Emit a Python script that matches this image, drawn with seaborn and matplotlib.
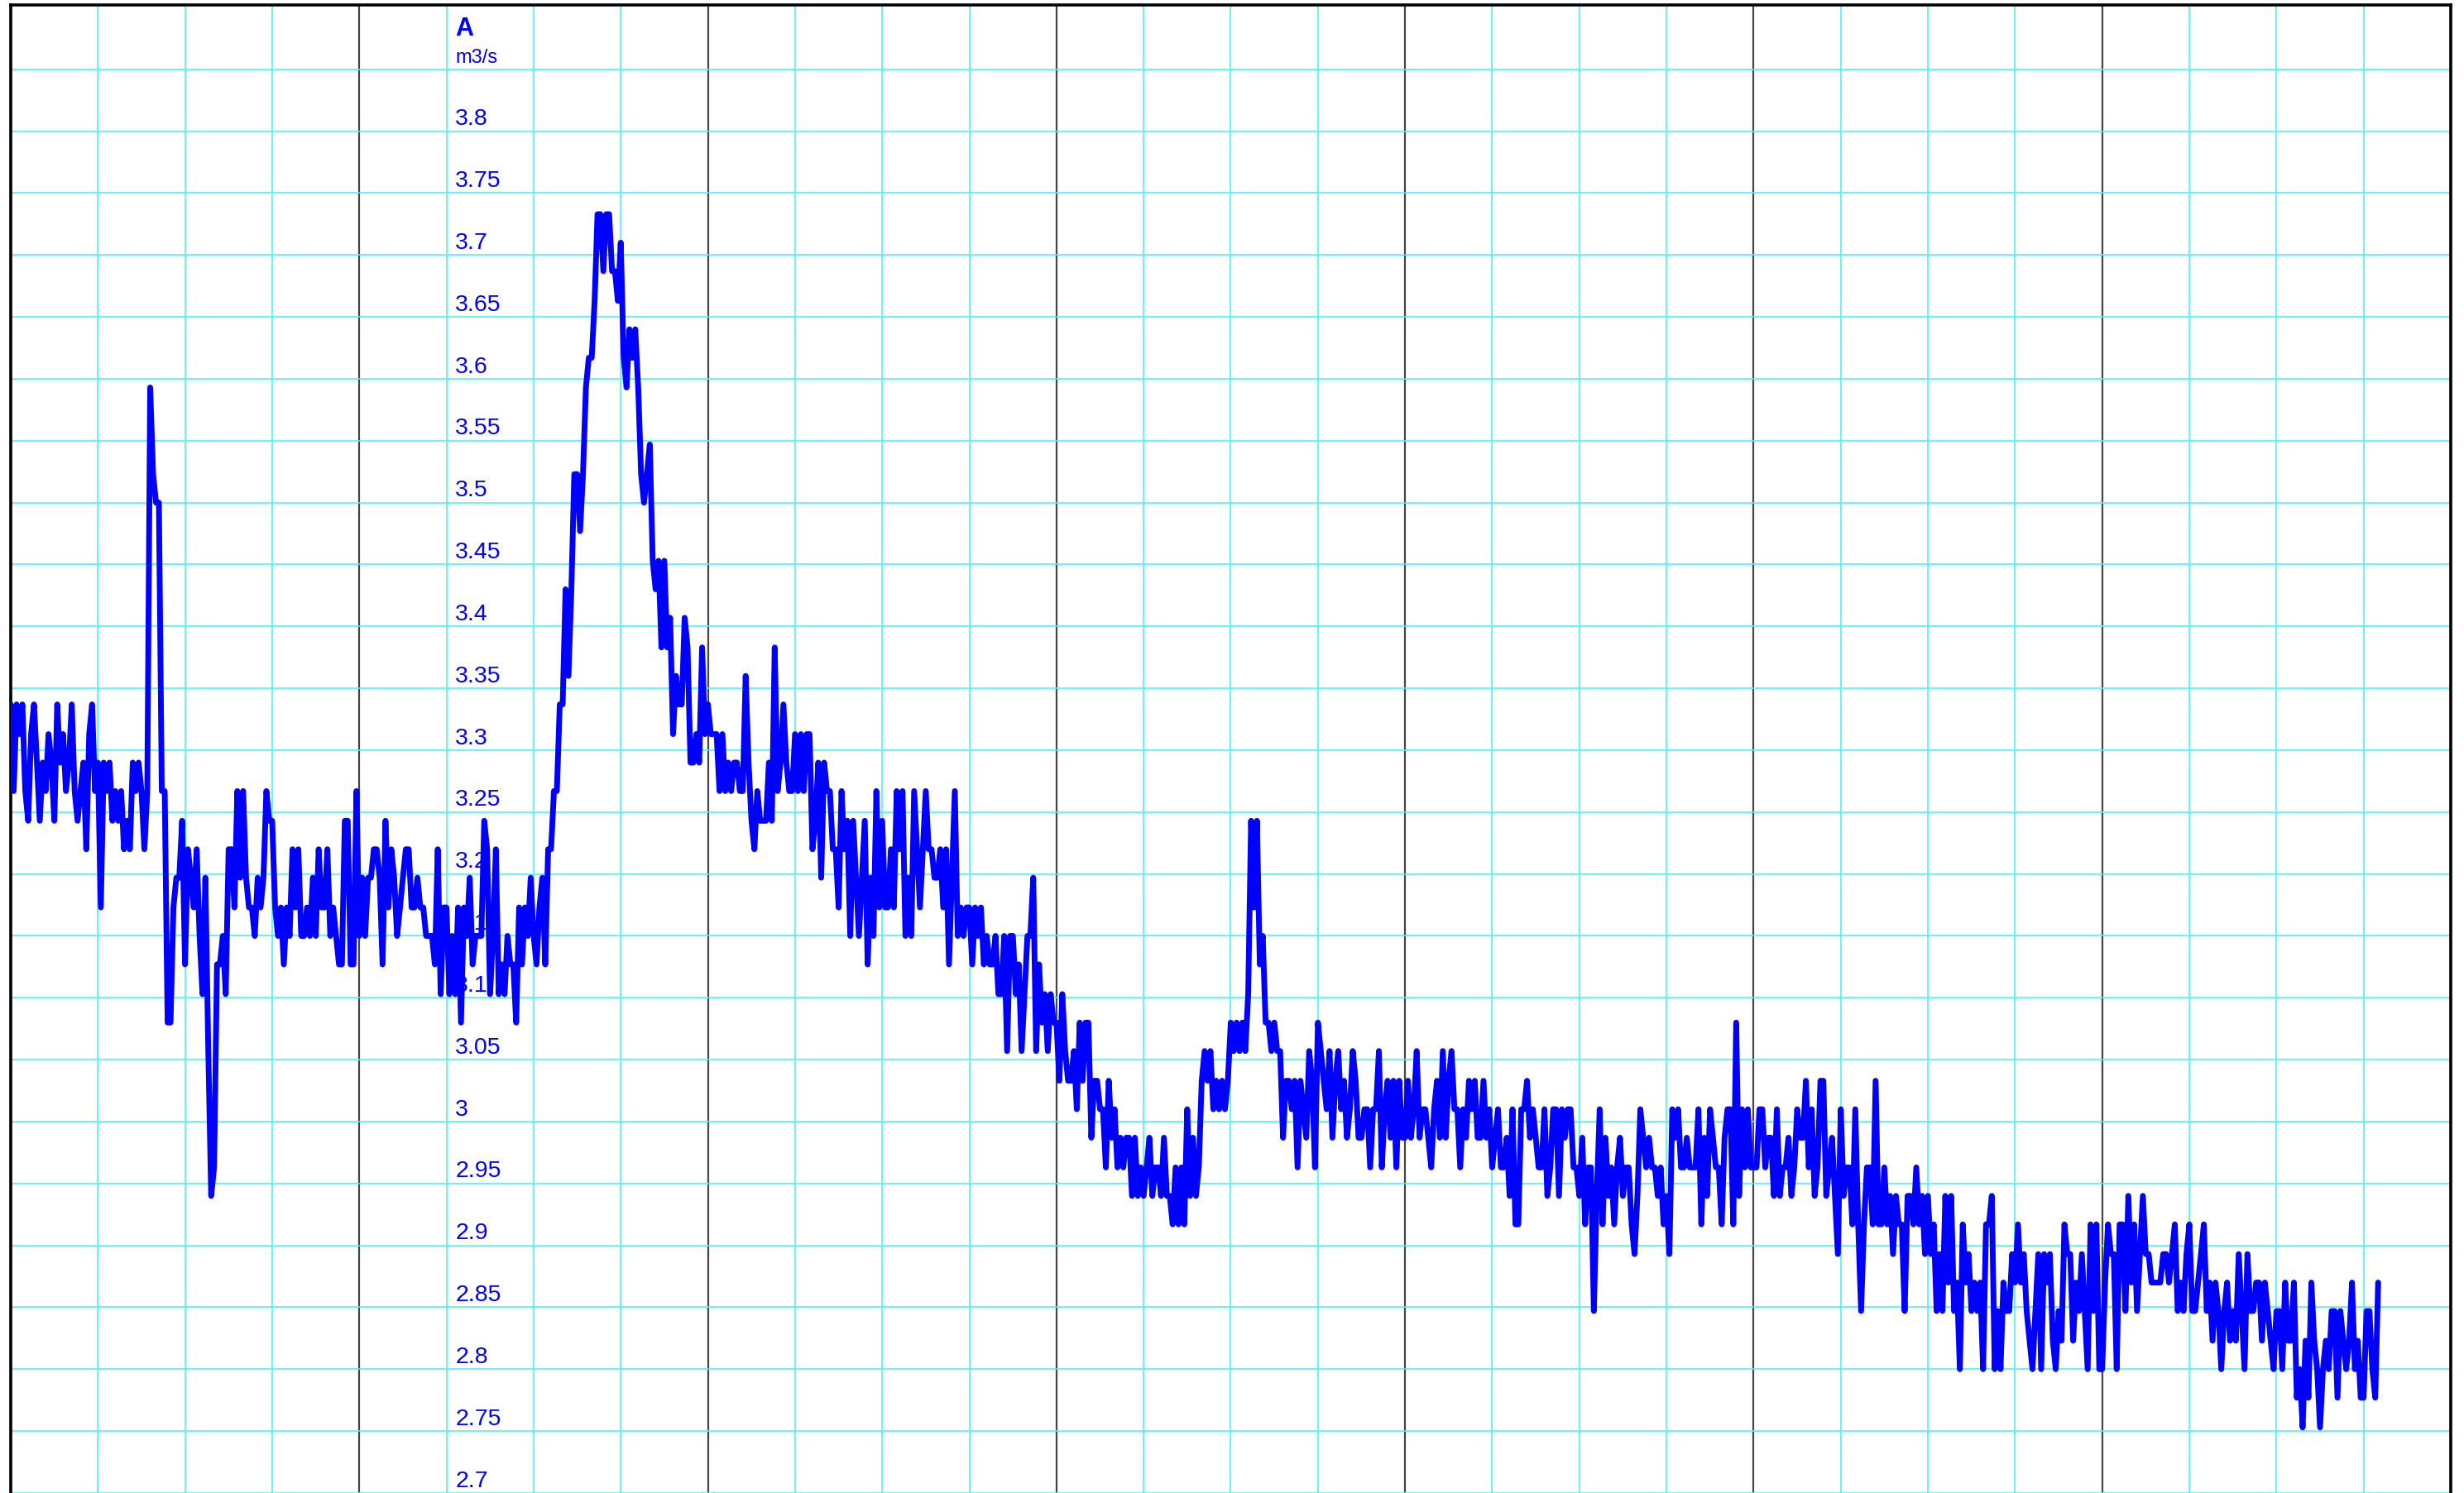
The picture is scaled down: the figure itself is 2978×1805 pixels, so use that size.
import numpy as np
import pandas as pd
import seaborn as sns
from matplotlib import pyplot as plt

# Flow readings A (m3/s), one reading every 12 minutes
flow_a = [3.337, 3.267, 3.337, 3.313, 3.337, 3.267, 3.243, 3.313, 3.337, 3.29,
          3.243, 3.29, 3.267, 3.313, 3.29, 3.243, 3.337, 3.29, 3.313, 3.267,
          3.29, 3.337, 3.267, 3.243, 3.267, 3.29, 3.22, 3.313, 3.337, 3.267,
          3.29, 3.173, 3.29, 3.267, 3.29, 3.243, 3.267, 3.243, 3.267, 3.22,
          3.243, 3.22, 3.29, 3.267, 3.29, 3.267, 3.22, 3.267, 3.593, 3.523,
          3.5, 3.5, 3.267, 3.267, 3.08, 3.08, 3.173, 3.197, 3.197, 3.243,
          3.127, 3.22, 3.197, 3.173, 3.22, 3.15, 3.103, 3.197, 3.057, 2.94,
          2.963, 3.127, 3.127, 3.15, 3.103, 3.22, 3.22, 3.173, 3.267, 3.197,
          3.267, 3.197, 3.173, 3.173, 3.15, 3.197, 3.173, 3.197, 3.267, 3.243,
          3.243, 3.173, 3.15, 3.173, 3.127, 3.173, 3.15, 3.22, 3.173, 3.22,
          3.15, 3.15, 3.173, 3.15, 3.197, 3.15, 3.22, 3.173, 3.173, 3.22,
          3.15, 3.173, 3.15, 3.127, 3.127]

flow_b = [3.243, 3.243, 3.127, 3.127, 3.267, 3.15, 3.197, 3.15, 3.197, 3.197,
          3.22, 3.22, 3.197, 3.127, 3.243, 3.173, 3.22, 3.197, 3.15, 3.173,
          3.197, 3.22, 3.22, 3.173, 3.173, 3.197, 3.173, 3.173, 3.15, 3.15,
          3.15, 3.127, 3.22, 3.103, 3.173, 3.173, 3.103, 3.15, 3.103, 3.173,
          3.08, 3.173, 3.15, 3.197, 3.127, 3.15, 3.15, 3.15, 3.243, 3.22,
          3.103, 3.15, 3.22, 3.103, 3.127, 3.103, 3.15, 3.127, 3.127, 3.08,
          3.173, 3.127, 3.173, 3.15, 3.197, 3.15, 3.127, 3.173, 3.197, 3.127,
          3.22, 3.22, 3.267, 3.267, 3.337, 3.337, 3.43, 3.36, 3.43, 3.523,
          3.523, 3.477, 3.523, 3.593, 3.617, 3.617, 3.663, 3.733, 3.733, 3.687,
          3.733, 3.733, 3.687, 3.687, 3.663, 3.71, 3.617, 3.593, 3.64, 3.617,
          3.64, 3.593, 3.523, 3.5, 3.523, 3.547, 3.453, 3.43, 3.453, 3.383,
          3.453, 3.383, 3.407, 3.313, 3.36, 3.337, 3.337, 3.407, 3.383, 3.29,
          3.29, 3.313, 3.29, 3.383, 3.313]

flow_c = [3.337, 3.313, 3.313, 3.313, 3.267, 3.313, 3.267, 3.29, 3.267, 3.29,
          3.29, 3.267, 3.267, 3.36, 3.29, 3.243, 3.22, 3.267, 3.243, 3.243,
          3.243, 3.29, 3.243, 3.383, 3.267, 3.29, 3.337, 3.29, 3.267, 3.267,
          3.313, 3.267, 3.313, 3.267, 3.313, 3.313, 3.22, 3.243, 3.29, 3.197,
          3.29, 3.267, 3.267, 3.22, 3.22, 3.173, 3.267, 3.22, 3.243, 3.15,
          3.243, 3.197, 3.15, 3.197, 3.243, 3.127, 3.197, 3.15, 3.267, 3.173,
          3.243, 3.173, 3.173, 3.22, 3.173, 3.267, 3.22, 3.267, 3.15, 3.197,
          3.15, 3.267, 3.22, 3.173, 3.22, 3.267, 3.22, 3.22, 3.197, 3.197,
          3.22, 3.173, 3.22, 3.127, 3.197, 3.267, 3.15, 3.173, 3.15, 3.173,
          3.173, 3.127, 3.173, 3.15, 3.173, 3.127, 3.15, 3.127, 3.127, 3.15,
          3.103, 3.103, 3.15, 3.057, 3.15, 3.15, 3.103, 3.127, 3.057, 3.103,
          3.15, 3.15, 3.197, 3.057, 3.127, 3.08, 3.103, 3.057, 3.103, 3.08]

flow_d = [3.08, 3.033, 3.103, 3.057, 3.033, 3.033, 3.057, 3.01, 3.08, 3.033,
          3.08, 3.08, 2.987, 3.033, 3.033, 3.01, 3.01, 2.963, 3.033, 2.987,
          3.01, 2.963, 2.987, 2.963, 2.987, 2.987, 2.94, 2.987, 2.94, 2.963,
          2.94, 2.963, 2.987, 2.94, 2.963, 2.963, 2.94, 2.987, 2.94, 2.94,
          2.917, 2.963, 2.917, 2.963, 2.917, 3.01, 2.94, 2.987, 2.94, 2.963,
          3.033, 3.057, 3.033, 3.057, 3.01, 3.033, 3.01, 3.033, 3.01, 3.033,
          3.08, 3.057, 3.08, 3.057, 3.08, 3.057, 3.103, 3.243, 3.173, 3.243,
          3.127, 3.15, 3.08, 3.08, 3.057, 3.08, 3.057, 3.057, 2.987, 3.033,
          3.033, 3.01, 3.033, 2.963, 3.033, 3.01, 2.987, 3.057, 3.033, 2.963,
          3.08, 3.057, 3.033, 3.01, 3.057, 2.987, 3.033, 3.057, 3.01, 3.033,
          2.987, 3.01, 3.057, 3.033, 2.987, 2.987, 3.01, 3.01, 2.963, 3.01,
          3.01, 3.057, 2.963, 3.01, 3.033, 2.987, 3.033, 2.963, 3.033, 2.987]

flow_e = [2.987, 3.033, 2.987, 3.01, 3.057, 2.987, 3.01, 3.01, 2.987, 2.963,
          3.01, 3.033, 2.987, 3.057, 2.987, 3.033, 3.057, 3.01, 3.01, 2.963,
          3.01, 2.987, 3.033, 3.01, 3.033, 2.987, 2.987, 3.033, 2.987, 3.01,
          2.963, 2.987, 3.01, 2.963, 2.963, 2.987, 2.94, 3.01, 2.917, 2.917,
          3.01, 3.01, 3.033, 2.987, 3.01, 2.987, 2.963, 2.963, 3.01, 2.94,
          2.963, 3.01, 3.01, 2.94, 3.01, 2.987, 3.01, 3.01, 2.963, 2.963,
          2.94, 2.987, 2.917, 2.963, 2.963, 2.847, 2.94, 3.01, 2.917, 2.987,
          2.94, 2.963, 2.917, 2.963, 2.987, 2.94, 2.963, 2.963, 2.917, 2.893,
          2.94, 3.01, 2.987, 2.963, 2.987, 2.963, 2.963, 2.94, 2.963, 2.917,
          2.94, 2.893, 3.01, 2.987, 3.01, 2.963, 2.963, 2.987, 2.963, 2.963,
          2.963, 3.01, 2.917, 2.987, 2.94, 3.01, 2.987, 2.963, 2.963, 2.917,
          2.987, 3.01, 3.01, 2.917, 3.08, 2.94, 3.01, 2.963, 3.01, 2.963]

flow_f = [2.963, 2.963, 3.01, 3.01, 2.963, 2.987, 2.987, 2.94, 3.01, 2.94,
          2.963, 2.963, 2.987, 2.94, 2.963, 3.01, 2.987, 2.987, 3.033, 2.963,
          3.01, 2.94, 2.963, 3.033, 3.033, 2.94, 2.963, 2.987, 2.94, 2.893,
          3.01, 2.94, 2.963, 2.963, 2.917, 3.01, 2.917, 2.847, 2.917, 2.963,
          2.963, 2.917, 3.033, 2.917, 2.917, 2.963, 2.917, 2.94, 2.893, 2.94,
          2.917, 2.917, 2.847, 2.94, 2.94, 2.917, 2.963, 2.917, 2.94, 2.893,
          2.94, 2.893, 2.917, 2.847, 2.893, 2.847, 2.94, 2.87, 2.94, 2.847,
          2.87, 2.8, 2.917, 2.87, 2.893, 2.847, 2.87, 2.847, 2.87, 2.8,
          2.917, 2.917, 2.94, 2.8, 2.847, 2.8, 2.87, 2.847, 2.847, 2.893,
          2.87, 2.917, 2.87, 2.893, 2.847, 2.823, 2.8, 2.847, 2.893, 2.8,
          2.893, 2.87, 2.893, 2.823, 2.8, 2.847, 2.823, 2.917, 2.893, 2.893,
          2.823, 2.87, 2.847, 2.893, 2.847, 2.8, 2.917, 2.847, 2.917, 2.8]

flow_g = [2.8, 2.87, 2.917, 2.893, 2.893, 2.8, 2.917, 2.917, 2.847, 2.94,
          2.87, 2.917, 2.847, 2.893, 2.94, 2.893, 2.893, 2.87, 2.87, 2.87,
          2.87, 2.893, 2.893, 2.87, 2.893, 2.917, 2.847, 2.87, 2.847, 2.893,
          2.917, 2.847, 2.847, 2.87, 2.893, 2.917, 2.847, 2.87, 2.823, 2.87,
          2.847, 2.8, 2.847, 2.87, 2.823, 2.847, 2.823, 2.893, 2.847, 2.8,
          2.893, 2.847, 2.847, 2.87, 2.87, 2.823, 2.87, 2.847, 2.823, 2.8,
          2.847, 2.847, 2.8, 2.87, 2.823, 2.823, 2.87, 2.777, 2.8, 2.753,
          2.823, 2.777, 2.87, 2.823, 2.8, 2.753, 2.8, 2.823, 2.8, 2.847,
          2.847, 2.777, 2.847, 2.823, 2.8, 2.823, 2.87, 2.8, 2.823, 2.777,
          2.777, 2.847, 2.847, 2.8, 2.777, 2.87]

step_h = 0.2  # hours between readings
week_h = 168

y_ticks = [3.8, 3.75, 3.7, 3.65, 3.6, 3.55, 3.5, 3.45, 3.4, 3.35, 3.3, 3.25,
           3.2, 3.15, 3.1, 3.05, 3.0, 2.95, 2.9, 2.85, 2.8, 2.75, 2.7]
series_name = "A"
unit_name = "m3/s"

flow = flow_a + flow_b + flow_c + flow_d + flow_e + flow_f + flow_g
df = pd.DataFrame({"hour": np.arange(len(flow)) * step_h, "flow": flow})

sns.set_style("white")
plt.rcParams["font.family"] = ["Liberation Sans", "DejaVu Sans"]

blue = "#0000FF"
cyan = "#4DF4F4"

fig = plt.figure(figsize=(29.78, 18.05), dpi=100)
ax = fig.add_axes([13 / 2978, 0, 2949 / 2978, 1799 / 1805])

sns.lineplot(data=df, x="hour", y="flow", color=blue, linewidth=5,
             estimator=None, ax=ax, zorder=3, legend=False)

ax.set_xlim(0, week_h)
ax.set_ylim(2.7027, 3.902)

# grid: days dark, 6 hours cyan, 0.05 m3/s cyan
ax.set_xticks(np.arange(0, week_h + 1, 24))
ax.set_xticks([h for h in range(0, week_h + 1, 6) if h % 24], minor=True)
ax.set_yticks(np.round(np.arange(2.70, 3.86, 0.05), 2))
ax.grid(which="minor", axis="x", color=cyan, linewidth=1.2)
ax.grid(which="major", axis="y", color=cyan, linewidth=1.2)
ax.grid(which="major", axis="x", color="#454545", linewidth=1.6)
ax.set_axisbelow(True)
ax.tick_params(which="both", length=0, labelbottom=False, labelleft=False)
ax.set_xlabel("")
ax.set_ylabel("")

for side in ["left", "top", "right"]:
    ax.spines[side].set_color("black")
    ax.spines[side].set_linewidth(2.6)
ax.spines["bottom"].set_visible(False)

# value labels inside the plot
for v in y_ticks:
    ax.text(30.6, v + 0.0049, f"{v:g}", color=blue, fontsize=20.5,
            ha="left", va="baseline", zorder=2)
ax.text(30.6, 3.8553, unit_name, color=blue, fontsize=17,
        ha="left", va="baseline", zorder=2)
ax.text(30.6, 3.877, series_name, color=blue, fontsize=22, fontweight="bold",
        ha="left", va="baseline", zorder=2)

fig.savefig("out.png", dpi=100)
